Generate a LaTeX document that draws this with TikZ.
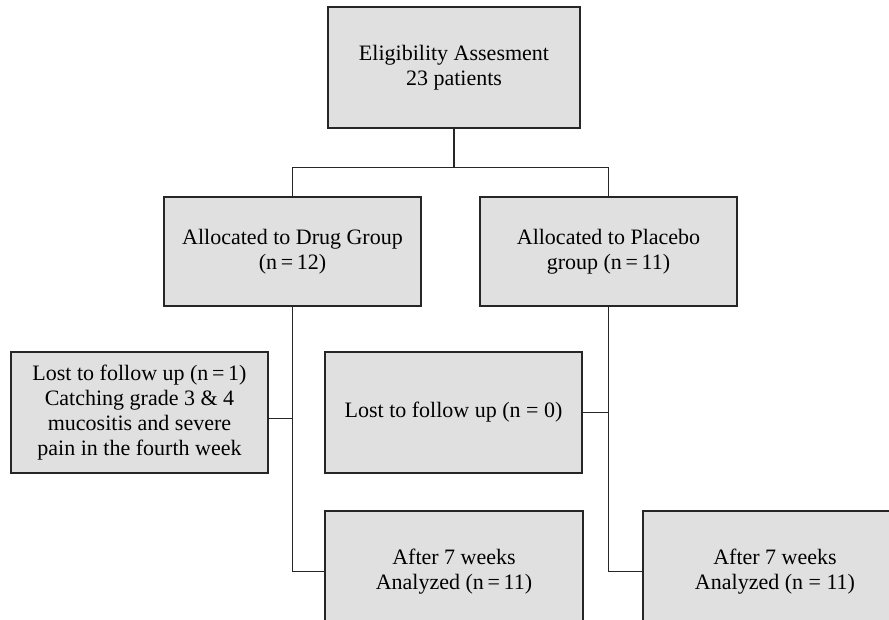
\documentclass[tikz,border=0pt]{standalone}
\usepackage{fontspec}
\setmainfont{Liberation Serif}
\begin{document}
\begin{tikzpicture}[x=1pt,y=-1pt,
  box/.style={draw=black!85,line width=1.5pt,fill=boxgray,align=center,
    inner sep=0pt,font=\fontsize{22}{25}\selectfont},
  link/.style={draw=black!85,line width=1.4pt}]
\definecolor{boxgray}{HTML}{E0E0E0}
\useasboundingbox (0,0) rectangle (889,620);
\clip (0,0) rectangle (889,620);
\node[box,minimum width=252pt,minimum height=121pt] (top) at (454,67.5)
  {Eligibility Assesment\\23 patients};
\node[box,minimum width=257pt,minimum height=109pt] (drug) at (292.5,251.5)
  {Allocated to Drug Group\\(n\,=\,12)};
\node[box,minimum width=257pt,minimum height=109pt] (placebo) at (608.5,251.5)
  {Allocated to Placebo\\group (n\,=\,11)};
\node[box,minimum width=257pt,minimum height=121pt] (lost1) at (139.5,412.5)
  {Lost to follow up (n\,=\,1)\\Catching grade 3 \& 4\\mucositis and severe\\pain in the fourth week};
\node[box,minimum width=257pt,minimum height=121pt] (lost2) at (453.5,412.5)
  {Lost to follow up (n = 0)};
\node[box,minimum width=258pt,minimum height=121pt] (an1) at (454,571.5)
  {After 7 weeks\\Analyzed (n\,=\,11)};
\node[box,minimum width=264pt,minimum height=121pt] (an2) at (775,571.5)
  {After 7 weeks\\Analyzed (n = 11)};
\coordinate (split) at ([yshift=-39pt]top.south);
\draw[link] (top.south) -- (split);
\draw[link] (drug.north) |- (split) -| (placebo.north);
\coordinate (b1) at ([yshift=-6pt]lost1.east);
\draw[link] (drug.south) |- (an1.west);
\draw[link] (b1) -- (b1 -| drug.south);
\draw[link] (placebo.south) |- (an2.west);
\draw[link] (lost2.east) -- (lost2.east -| placebo.south);
\end{tikzpicture}
\end{document}
